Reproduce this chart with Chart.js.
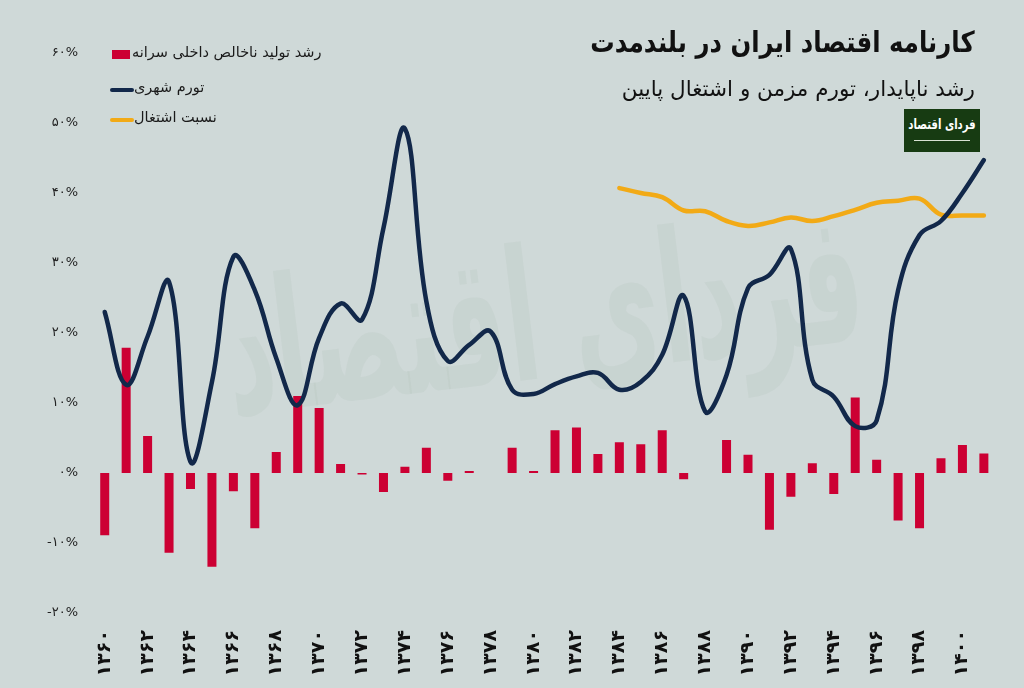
<!DOCTYPE html>
<html lang="fa">
<head>
<meta charset="utf-8">
<script src="https://cdn.jsdelivr.net/npm/chart.js@4.4.1/dist/chart.umd.min.js"></script>
<style>
  html, body { margin: 0; padding: 0; background: #cfd9d8; }
  #wrap { position: relative; width: 1024px; height: 688px; overflow: hidden; background: #cfd9d8; font-family: "DejaVu Sans", sans-serif; }
  #c { position: absolute; left: 0; top: 0; }
  .title { position: absolute; right: 49px; top: 25px; font-size: 29px; font-weight: bold; color: #111; direction: rtl; white-space: nowrap; transform: scaleX(0.84); transform-origin: right center; }
  .subtitle { position: absolute; right: 49px; top: 76px; font-size: 21.5px; color: #111; direction: rtl; white-space: nowrap; }
  .logo { position: absolute; left: 904px; top: 109px; width: 76px; height: 43px; background: #173b12; color: #fff; overflow: hidden; }
  .logo .t { position: absolute; left: -20px; right: -20px; top: 7px; text-align: center; font-size: 14px; font-weight: bold; direction: rtl; white-space: nowrap; transform: scaleX(0.72); }
  .logo .l { position: absolute; left: 10px; right: 10px; top: 31px; height: 1px; background: #d9e2d3; }
  .legend { position: absolute; left: 110px; top: 40px; font-size: 14.5px; color: #1a1a1a; }
  .item { position: absolute; left: 0; height: 20px; white-space: nowrap; }
  .item .m { position: absolute; left: 0; }
  .item .tx { position: absolute; direction: rtl; top: 0; }
</style>
</head>
<body>
<div id="wrap">
  <canvas id="c" width="1024" height="688"></canvas>
  <div class="title">کارنامه اقتصاد ایران در بلندمدت</div>
  <div class="subtitle">رشد ناپایدار، تورم مزمن و اشتغال پایین</div>
  <div class="logo"><div class="t">فردای اقتصاد</div><div class="l"></div></div>
  <div class="legend" id="legend"></div>
</div>
<script>
// ---- Data ----
const years = ['۱۳۶۰','۱۳۶۱','۱۳۶۲','۱۳۶۳','۱۳۶۴','۱۳۶۵','۱۳۶۶','۱۳۶۷','۱۳۶۸','۱۳۶۹',
               '۱۳۷۰','۱۳۷۱','۱۳۷۲','۱۳۷۳','۱۳۷۴','۱۳۷۵','۱۳۷۶','۱۳۷۷','۱۳۷۸','۱۳۷۹',
               '۱۳۸۰','۱۳۸۱','۱۳۸۲','۱۳۸۳','۱۳۸۴','۱۳۸۵','۱۳۸۶','۱۳۸۷','۱۳۸۸','۱۳۸۹',
               '۱۳۹۰','۱۳۹۱','۱۳۹۲','۱۳۹۳','۱۳۹۴','۱۳۹۵','۱۳۹۶','۱۳۹۷','۱۳۹۸','۱۳۹۹',
               '۱۴۰۰','۱۴۰۱'];
const gdpPerCapitaGrowth = [-8.9, 17.9, 5.3, -11.4, -2.3, -13.4, -2.6, -7.9, 3.0, 11.0,
                            9.3, 1.3, -0.2, -2.7, 0.9, 3.6, -1.1, 0.3, 0, 3.6,
                            0.3, 6.1, 6.5, 2.7, 4.4, 4.1, 6.1, -0.9, 0, 4.7,
                            2.6, -8.1, -3.4, 1.4, -3.0, 10.8, 1.9, -6.8, -7.9, 2.1,
                            4.0, 2.8];
const urbanInflation = [23.0, 12.6, 19.5, 27.3, 1.6, 13.0, 30.9, 26.1, 16.4, 9.7,
                        19.3, 24.2, 21.9, 35.0, 49.2, 24.5, 16.0, 18.3, 20.2, 11.9,
                        11.3, 12.7, 13.8, 14.3, 11.9, 13.0, 16.9, 25.3, 8.8, 14.0,
                        26.4, 28.3, 32.0, 13.3, 10.9, 6.7, 7.5, 26.1, 34.0, 36.0,
                        40.0, 44.7];
const employmentRatio = [null, null, null, null, null, null, null, null, null, null,
                         null, null, null, null, null, null, null, null, null, null,
                         null, null, null, null, 40.7, 40.0, 39.4, 37.5, 37.4, 36.0,
                         35.3, 35.8, 36.5, 36.0, 36.7, 37.6, 38.6, 38.9, 39.2, 36.9,
                         36.8, 36.8];
const seriesNames = ['رشد تولید ناخالص داخلی سرانه', 'تورم شهری', 'نسبت اشتغال'];
const seriesColors = ['#cc0033', '#12284a', '#f2aa16'];
const yTicks = [-20, -10, 0, 10, 20, 30, 40, 50, 60];

const faDigits = ['۰','۱','۲','۳','۴','۵','۶','۷','۸','۹'];
const toFa = s => String(s).replace(/[0-9]/g, d => faDigits[+d]);

// ---- HTML legend ----
const leg = document.getElementById('legend');
const legendTops = [4, 39, 69];
seriesNames.forEach((n, i) => {
  const it = document.createElement('div');
  it.className = 'item';
  it.style.top = legendTops[i] + 'px';
  const m = document.createElement('div');
  m.className = 'm';
  if (i === 0) { m.style.cssText = 'left:2px;top:6px;width:18px;height:9px;background:' + seriesColors[i]; }
  else { m.style.cssText = 'left:0;top:9px;width:24px;height:4px;border-radius:2px;background:' + seriesColors[i]; }
  const t = document.createElement('div');
  t.className = 'tx';
  t.style.left = (i === 0 ? 22 : 24) + 'px';
  t.textContent = n;
  it.appendChild(m); it.appendChild(t);
  leg.appendChild(it);
});

// ---- Watermark plugin ----
const watermark = {
  id: 'watermark',
  beforeDatasetsDraw(chart) {
    const ctx = chart.ctx;
    ctx.save();
    ctx.translate(545, 330);
    ctx.rotate(-0.12);
    ctx.scale(1, 1.9);
    ctx.direction = 'rtl';
    ctx.font = 'bold 96px "DejaVu Sans"';
    ctx.fillStyle = 'rgba(165,188,176,0.16)';
    ctx.textAlign = 'center';
    ctx.textBaseline = 'middle';
    ctx.fillText('فردای اقتصاد', 0, 0);
    ctx.restore();
  }
};

new Chart(document.getElementById('c'), {
  data: {
    labels: years,
    datasets: [
      { type: 'line', label: seriesNames[1], data: urbanInflation, borderColor: seriesColors[1],
        borderWidth: 4.5, pointRadius: 0, tension: 0.4, fill: false, order: 0, borderCapStyle: 'round' },
      { type: 'line', label: seriesNames[2], data: employmentRatio, borderColor: seriesColors[2],
        borderWidth: 4.5, pointRadius: 0, tension: 0.4, fill: false, order: 1, borderCapStyle: 'round', spanGaps: false },
      { type: 'bar', label: seriesNames[0], data: gdpPerCapitaGrowth, backgroundColor: seriesColors[0],
        barPercentage: 0.42, categoryPercentage: 1.0, order: 2 }
    ]
  },
  options: {
    responsive: false,
    animation: false,
    layout: { padding: { top: 53, right: 28, left: 0, bottom: 0 } },
    plugins: { legend: { display: false }, tooltip: { enabled: false } },
    scales: {
      x: {
        offset: true,
        grid: { display: false, drawTicks: false },
        border: { display: false },
        ticks: {
          autoSkip: false, maxRotation: 90, minRotation: 90, padding: 17,
          color: '#111', font: { family: 'DejaVu Sans', size: 19, weight: 'bold' },
          callback: function(v, i) { return i % 2 === 0 ? years[i] : ''; }
        },
        afterFit: s => { s.height = 75; }
      },
      y: {
        min: -20, max: 60,
        afterBuildTicks: s => { s.ticks = yTicks.map(v => ({ value: v })); },
        grid: { display: false, drawTicks: false },
        border: { display: false },
        ticks: { padding: 16, color: '#222', font: { family: 'DejaVu Sans', size: 13 },
                 callback: v => (v < 0 ? '-' + toFa(-v) : toFa(v)) + '%' },
        afterFit: s => { s.width = 94; }
      }
    }
  },
  plugins: [watermark]
});
</script>
</body>
</html>
